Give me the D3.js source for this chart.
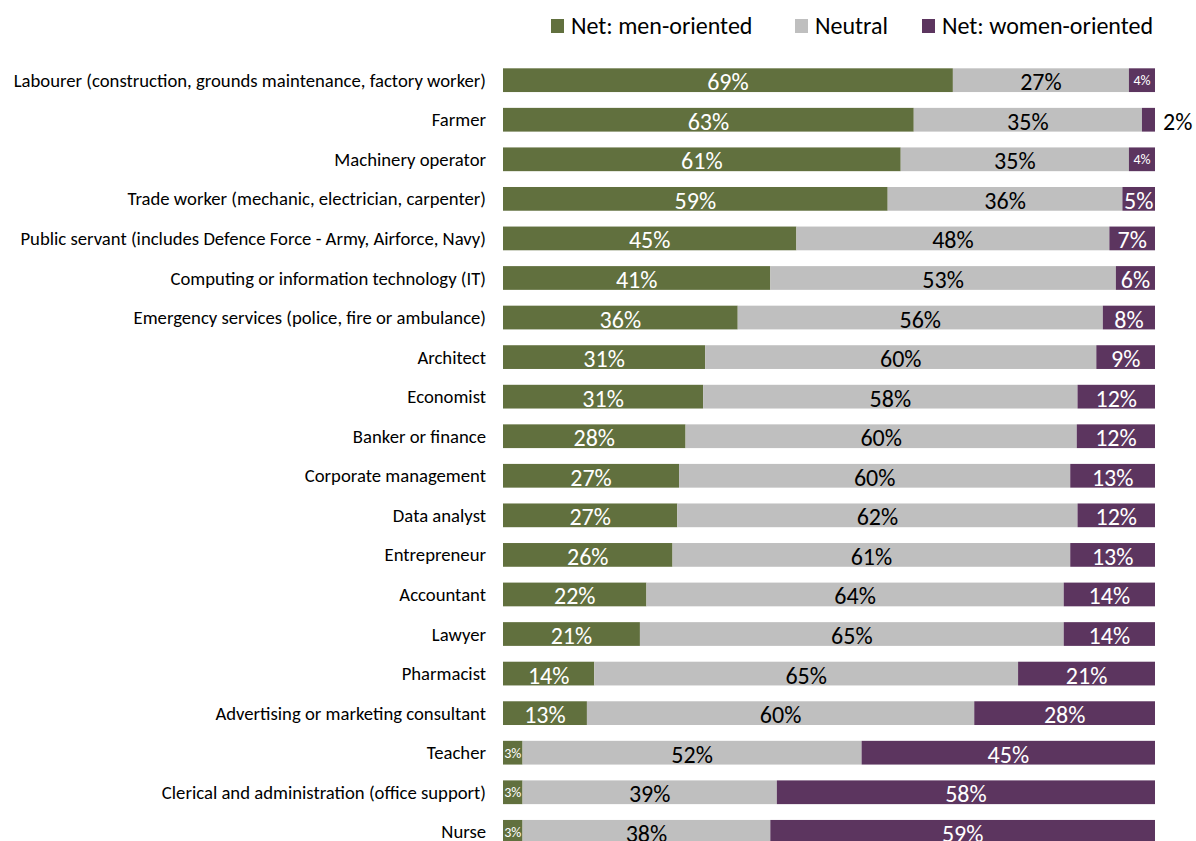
<!DOCTYPE html>
<html>
<head>
<meta charset="utf-8">
<script src="https://cdn.jsdelivr.net/npm/d3@7"></script>
<style>
  html, body { margin: 0; padding: 0; background: #fff; overflow: hidden; }
  svg { display: block; }
  text { font-family: Carlito, Lato, "Open Sans", sans-serif; }
</style>
</head>
<body>
<svg id="chart" width="1196" height="841"></svg>
<script>
const categories = [
  "Labourer (construction, grounds maintenance, factory worker)",
  "Farmer",
  "Machinery operator",
  "Trade worker (mechanic, electrician, carpenter)",
  "Public servant (includes Defence Force - Army, Airforce, Navy)",
  "Computing or information technology (IT)",
  "Emergency services (police, fire or ambulance)",
  "Architect",
  "Economist",
  "Banker or finance",
  "Corporate management",
  "Data analyst",
  "Entrepreneur",
  "Accountant",
  "Lawyer",
  "Pharmacist",
  "Advertising or marketing consultant",
  "Teacher",
  "Clerical and administration (office support)",
  "Nurse"
];
const menOriented   = [69, 63, 61, 59, 45, 41, 36, 31, 31, 28, 27, 27, 26, 22, 21, 14, 13, 3, 3, 3];
const neutral       = [27, 35, 35, 36, 48, 53, 56, 60, 58, 60, 60, 62, 61, 64, 65, 65, 60, 52, 39, 38];
const womenOriented = [4, 2, 4, 5, 7, 6, 8, 9, 12, 12, 13, 12, 13, 14, 14, 21, 28, 45, 58, 59];
const seriesNames = ["Net: men-oriented", "Neutral", "Net: women-oriented"];
const seriesKeys = ["men", "neutral", "women"];
const colors = ["#61703E", "#BFBFBF", "#5C355F"];
const labelColors = ["#ffffff", "#000000", "#ffffff"];

const rows = categories.map((c, i) => ({
  category: c, men: menOriented[i], neutral: neutral[i], women: womenOriented[i]
}));

const svg = d3.select("#chart");
const x = d3.scaleLinear().domain([0, 1]).range([503, 1155]);
const y = d3.scaleBand().domain(categories).range([60.4, 851.6]).paddingInner(0.4).paddingOuter(0.2);

const stack = d3.stack().keys(seriesKeys).offset(d3.stackOffsetExpand);
const stacked = stack(rows);

const groups = svg.selectAll("g.series").data(stacked).join("g")
  .attr("class", "series")
  .attr("fill", (d, i) => colors[i]);

groups.selectAll("rect").data(d => d).join("rect")
  .attr("x", d => x(d[0]))
  .attr("y", d => y(d.data.category))
  .attr("width", d => x(d[1]) - x(d[0]))
  .attr("height", y.bandwidth());

// value labels
stacked.forEach((s, si) => {
  svg.append("g").selectAll("text").data(s).join("text")
    .each(function(d) {
      const v = d.data[s.key];
      const t = d3.select(this);
      const cy = y(d.data.category) + y.bandwidth() / 2;
      const cx = (x(d[0]) + x(d[1])) / 2;
      if (v <= 2) {
        t.attr("x", x(d[1]) + 8).attr("y", cy + 10)
         .attr("text-anchor", "start").attr("font-size", 24).attr("fill", "#000");
      } else if (v <= 4) {
        t.attr("x", cx).attr("y", cy + 5)
         .attr("text-anchor", "middle").attr("font-size", 14).attr("fill", labelColors[si]);
      } else {
        t.attr("x", cx).attr("y", cy + 10)
         .attr("text-anchor", "middle").attr("font-size", 24).attr("fill", labelColors[si]);
      }
      t.text(v + "%");
    });
});

// category axis labels
const yAxis = d3.axisLeft(y).tickSize(0).tickPadding(17);
const ax = svg.append("g").attr("transform", "translate(503,0)").call(yAxis);
ax.select(".domain").remove();
ax.selectAll("text").attr("font-size", 18.7).attr("fill", "#000")
  .attr("font-family", "Carlito, Lato, 'Open Sans', sans-serif").attr("dy", "0.35em");

// legend
const legendX = [551, 795, 922];
const legend = svg.append("g");
seriesNames.forEach((n, i) => {
  legend.append("rect").attr("x", legendX[i]).attr("y", 19).attr("width", 13).attr("height", 14).attr("fill", colors[i]);
  legend.append("text").attr("x", legendX[i] + 20).attr("y", 34)
    .attr("font-size", 24).attr("fill", "#000").text(n);
});
</script>
</body>
</html>
